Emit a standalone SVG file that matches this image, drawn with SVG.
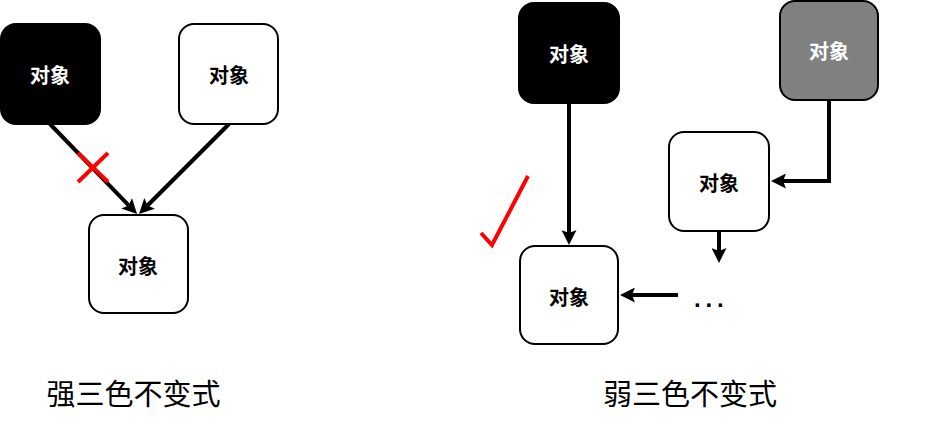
<svg xmlns="http://www.w3.org/2000/svg" width="933" height="429" viewBox="0 0 933 429">
<style>
.box{stroke:#000;stroke-width:2}
.w{fill:#fff}
.k{fill:#000}
.g{fill:#808080}
.lbl{font-family:"Noto Sans CJK SC","Noto Sans",sans-serif;font-weight:bold;font-size:20px;text-anchor:middle;dominant-baseline:central}
.lw{fill:#fff}
.lk{fill:#000}
.edge{fill:none;stroke:#000;stroke-width:4}
.red{fill:none;stroke:#ff0000;stroke-width:4}
.title{font-family:"Noto Sans CJK SC","Noto Sans",sans-serif;font-size:29px;text-anchor:middle;fill:#000}
</style>
<defs>
<marker id="arr" markerUnits="userSpaceOnUse" viewBox="0 0 15 15" refX="3" refY="7.5" markerWidth="15" markerHeight="15" orient="auto">
<path d="M0,0 L15,7.5 L0,15 L3,7.5 z" fill="#000"/>
</marker>
</defs>
<rect width="933" height="429" fill="#fff"/>
<g id="connectors">
<line class="edge" x1="50" y1="124" x2="128.7" y2="205.4" marker-end="url(#arr)"/>
<line class="edge" x1="229" y1="124" x2="147.5" y2="205.5" marker-end="url(#arr)"/>
<line class="edge" x1="569" y1="103" x2="569" y2="233" marker-end="url(#arr)"/>
<polyline class="edge" points="829,100 829,181 783,181" marker-end="url(#arr)"/>
<line class="edge" x1="719" y1="231" x2="719" y2="251" marker-end="url(#arr)"/>
<line class="edge" x1="678" y1="295" x2="632" y2="295" marker-end="url(#arr)"/>
</g>
<g id="nodeA">
<rect class="box k" x="1" y="24" width="99" height="100" rx="15"/>
<text class="lbl lw" x="50" y="74">对象</text>
</g>
<g id="nodeB">
<rect class="box w" x="179" y="24" width="99" height="100" rx="15"/>
<text class="lbl lk" x="229" y="74">对象</text>
</g>
<g id="nodeC">
<rect class="box w" x="89" y="215" width="99" height="98" rx="15"/>
<text class="lbl lk" x="138" y="265">对象</text>
</g>
<g id="cross">
<line class="red" x1="78" y1="153" x2="108" y2="182"/>
<line class="red" x1="108" y1="153" x2="78" y2="182"/>
</g>
<g id="nodeD">
<rect class="box k" x="519" y="3" width="100" height="100" rx="15"/>
<text class="lbl lw" x="569" y="53">对象</text>
</g>
<g id="nodeE">
<rect class="box g" x="780" y="1" width="98" height="99" rx="15"/>
<text class="lbl lw" x="829" y="50">对象</text>
</g>
<g id="nodeF">
<rect class="box w" x="669" y="132" width="100" height="99" rx="15"/>
<text class="lbl lk" x="719" y="182">对象</text>
</g>
<g id="nodeG">
<rect class="box w" x="520" y="246" width="98" height="98" rx="15"/>
<text class="lbl lk" x="569" y="296">对象</text>
</g>
<g id="ellipsis">
<text x="694" y="307" font-family="Liberation Sans,sans-serif" font-weight="bold" font-size="24" letter-spacing="4.8" fill="#000">...</text>
</g>
<g id="check">
<polyline class="red" points="481,233 492,245 528,176"/>
</g>
<text class="title" x="133.5" y="405">强三色不变式</text>
<text class="title" x="690" y="405">弱三色不变式</text>
</svg>
